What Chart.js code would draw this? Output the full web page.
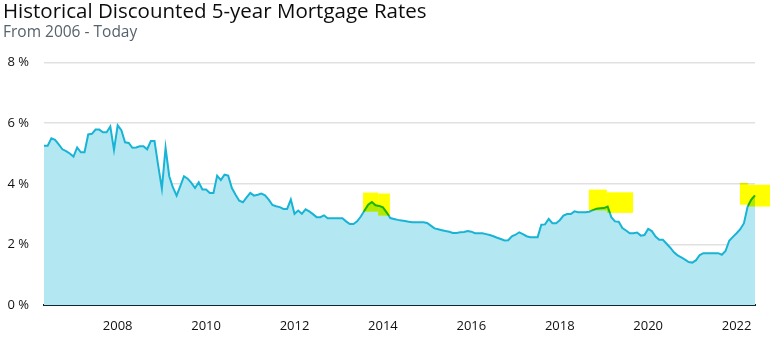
<!DOCTYPE html>
<html>
<head>
<meta charset="utf-8">
<script src="https://cdn.jsdelivr.net/npm/chart.js@4/dist/chart.umd.min.js"></script>
<style>
  html, body { margin: 0; padding: 0; background: #ffffff; }
  #wrap { width: 770px; height: 342px; }
</style>
</head>
<body>
<div id="wrap"><canvas id="rates" width="770" height="342"></canvas></div>
<script>
// Monthly discounted 5-year fixed mortgage rate (%), starting May 2006
const startYear = 2006;
const startMonth = 5;
const rates = [
  5.26, 5.26, 5.50, 5.45, 5.30, 5.14, 5.08, 5.00, 4.90, 5.20, 5.04, 5.04,
  5.63, 5.65, 5.79, 5.79, 5.70, 5.70, 5.89, 5.12, 5.93, 5.77, 5.37, 5.35,
  5.19, 5.20, 5.24, 5.24, 5.14, 5.41, 5.41, 4.60, 3.84, 5.19, 4.25, 3.88,
  3.61, 3.92, 4.25, 4.17, 4.03, 3.86, 4.05, 3.81, 3.81, 3.70, 3.70, 4.27,
  4.12, 4.30, 4.27, 3.86, 3.64, 3.44, 3.39, 3.55, 3.70, 3.61, 3.64, 3.68,
  3.62, 3.48, 3.30, 3.26, 3.23, 3.17, 3.17, 3.48, 3.01, 3.12, 3.01, 3.16,
  3.09, 3.00, 2.90, 2.90, 2.96, 2.86, 2.86, 2.86, 2.86, 2.86, 2.76, 2.67,
  2.67, 2.76, 2.92, 3.12, 3.31, 3.40, 3.29, 3.27, 3.22, 3.06, 2.87, 2.84,
  2.81, 2.79, 2.77, 2.75, 2.73, 2.73, 2.73, 2.73, 2.71, 2.62, 2.53, 2.50,
  2.47, 2.44, 2.42, 2.38, 2.38, 2.40, 2.41, 2.44, 2.42, 2.37, 2.37, 2.37,
  2.34, 2.31, 2.27, 2.22, 2.18, 2.13, 2.14, 2.27, 2.32, 2.40, 2.34, 2.27,
  2.24, 2.24, 2.24, 2.65, 2.66, 2.84, 2.70, 2.70, 2.80, 2.95, 3.00, 3.00,
  3.09, 3.06, 3.06, 3.06, 3.08, 3.13, 3.18, 3.19, 3.20, 3.25, 2.90, 2.76,
  2.75, 2.54, 2.46, 2.37, 2.37, 2.39, 2.29, 2.31, 2.51, 2.44, 2.26, 2.15,
  2.15, 2.02, 1.89, 1.74, 1.64, 1.57, 1.50, 1.42, 1.40, 1.48, 1.65, 1.71,
  1.71, 1.71, 1.71, 1.71, 1.66, 1.78, 2.12, 2.25, 2.37, 2.50, 2.70, 3.25,
  3.48, 3.62
];

// Year labels shown on the time axis
const yearTicks = ['2008', '2010', '2012', '2014', '2016', '2018', '2020', '2022'];

// Highlighted rate peaks: month-index span and rate band (%)
const highlights = [
  { from: 86.6, to: 90.7, low: 3.08, high: 3.71 },
  { from: 90.7, to: 93.9, low: 2.95, high: 3.68 },
  { from: 147.9, to: 152.8, low: 3.12, high: 3.81 },
  { from: 152.8, to: 159.9, low: 3.04, high: 3.72 },
  { from: 188.9, to: 191.1, low: 3.31, high: 4.03 },
  { from: 191.1, to: 198.0, low: 3.25, high: 3.97 }
];

// Month labels "YYYY-MM" for each rate
const months = rates.map((_, i) => {
  const k = startMonth - 1 + i;
  const y = startYear + Math.floor(k / 12);
  const m = (k % 12) + 1;
  return y + '-' + String(m).padStart(2, '0');
});

const fontFamily = '"Open Sans", Lato, sans-serif';

const highlighter = {
  id: 'highlighter',
  afterDraw(chart) {
    const { ctx, scales: { x, y } } = chart;
    ctx.save();
    ctx.globalCompositeOperation = 'multiply';
    ctx.fillStyle = '#ffff00';
    highlights.forEach(h => {
      const x1 = x.getPixelForValue(h.from);
      const x2 = x.getPixelForValue(h.to);
      const y1 = y.getPixelForValue(h.high);
      const y2 = y.getPixelForValue(h.low);
      ctx.fillRect(x1, y1, x2 - x1, y2 - y1);
    });
    ctx.restore();
  }
};

new Chart(document.getElementById('rates'), {
  type: 'line',
  data: {
    labels: months,
    datasets: [{
      data: rates,
      borderColor: '#19b4d5',
      borderWidth: 2,
      backgroundColor: '#b3e8f2',
      fill: 'origin',
      pointRadius: 0,
      tension: 0
    }]
  },
  options: {
    responsive: false,
    animation: false,
    layout: { padding: { left: 3, right: 15, top: 0, bottom: 0 } },
    plugins: {
      legend: { display: false },
      tooltip: { enabled: false },
      title: {
        display: true,
        text: 'Historical Discounted 5-year Mortgage Rates',
        align: 'start',
        color: '#0c0c0c',
        font: { family: fontFamily, size: 20.5, weight: 'normal', lineHeight: 1.15 },
        padding: { top: 0, bottom: 0 }
      },
      subtitle: {
        display: true,
        text: 'From 2006 - Today',
        align: 'start',
        color: '#56626c',
        font: { family: fontFamily, size: 15.5, weight: 'normal', lineHeight: 1.1 },
        padding: { top: 0, bottom: 22 }
      }
    },
    scales: {
      x: {
        z: 1,
        grid: { display: false },
        border: { display: true, color: '#0e2a30', width: 2 },
        ticks: {
          autoSkip: false,
          maxRotation: 0,
          padding: 5,
          color: '#111111',
          font: { family: fontFamily, size: 13 },
          callback: function (val, idx) {
            const label = months[idx];
            const yr = label.slice(0, 4);
            return label.endsWith('-01') && yearTicks.includes(yr) ? yr : null;
          }
        },
        afterFit: s => { s.height = 37; }
      },
      y: {
        z: 1,
        min: 0,
        max: 8,
        border: { display: false },
        grid: {
          color: 'rgba(0,0,0,0.12)',
          lineWidth: 1.5,
          drawTicks: false
        },
        ticks: {
          stepSize: 2,
          padding: 15,
          color: '#111111',
          font: { family: fontFamily, size: 13 },
          callback: v => v + ' %'
        },
        afterFit: s => { s.width = 41; }
      }
    }
  },
  plugins: [highlighter]
});
</script>
</body>
</html>
